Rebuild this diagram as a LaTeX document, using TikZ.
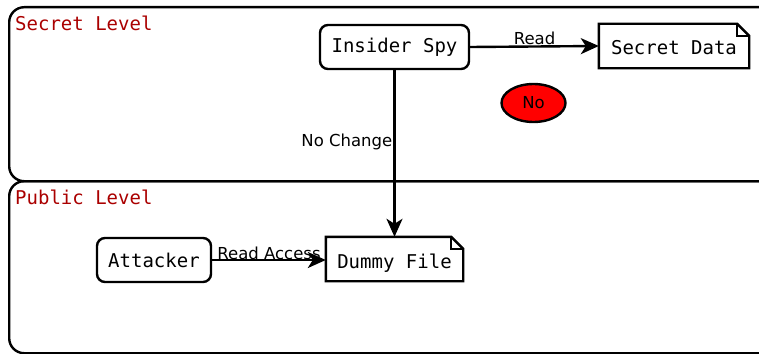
\documentclass[tikz,border=0pt]{standalone}
\usepackage{fontspec}
\setmainfont{DejaVu Sans}
\newfontfamily\monof{DejaVu Sans Mono}
\usetikzlibrary{arrows.meta,shapes.geometric}
\definecolor{lvlred}{HTML}{AA0000}
\tikzset{
  every picture/.style={line width=2.4pt},
  container/.style={draw, rounded corners=15pt},
  lvltitle/.style={anchor=west, text=lvlred, font=\monof\fontsize{19}{22}\selectfont, inner sep=0pt},
  actor/.style={draw, rounded corners=8pt, font=\monof\fontsize{19}{22}\selectfont, minimum height=44pt, inner xsep=8pt},
  docnode/.style={font=\monof\fontsize{19}{22}\selectfont, minimum height=42pt, inner xsep=6pt, inner ysep=0pt, text height=18pt, text depth=0pt},
  lbl/.style={font=\fontsize{16.5}{19}\selectfont, inner sep=1pt},
  conn/.style={-{Stealth[length=18pt,width=16pt,inset=5pt]}, line width=2.4pt},
}
\newcommand{\docoutline}[1]{%
  \draw (#1.south west) -- (#1.north west) -- ([xshift=-12pt]#1.north east) -- ([yshift=-12pt]#1.north east) -- (#1.south east) -- cycle;
  \draw ([xshift=-12pt]#1.north east) -- ([xshift=-12pt,yshift=-12pt]#1.north east) -- ([yshift=-12pt]#1.north east);}
\begin{document}
\begin{tikzpicture}[x=1pt,y=-1pt]
\useasboundingbox (0,0) rectangle (759,353);
\clip (0,0) rectangle (759,353);
\node[container, minimum width=770pt, minimum height=174pt, anchor=north west] (secret) at (8,6) {};
\node[container, minimum width=770pt, minimum height=172pt, anchor=north west] (public) at (8,180) {};
\node[lvltitle] (stitle) at (14,23) {Secret Level};
\node[lvltitle] (ptitle) at (14,197) {Public Level};

\node[actor, minimum width=149pt] (spy) at (394.5,47) {Insider Spy};
\node[docnode, minimum width=148pt] (sdata) at (674,46) {Secret Data};
\docoutline{sdata}
\node[ellipse, draw, fill=red, minimum width=64pt, minimum height=38pt, inner sep=0pt, font=\fontsize{16.5}{19}\selectfont] (no) at (533.5,103) {No};

\node[actor, minimum width=114pt] (att) at (154,260) {Attacker};
\node[docnode, minimum width=135pt] (dummy) at (394.5,259) {Dummy File};
\docoutline{dummy}

\draw[conn] (spy.east) -- (sdata.west) node[lbl, midway, above=0pt] (lread) {Read};
\draw[conn] (spy.south) -- (dummy.north) node[lbl, pos=0.43, left=0pt] (lnochg) {No Change};
\draw[conn] (att.east) -- (att.east -| dummy.west) node[lbl, midway, above=-2pt] (lra) {Read Access};
\end{tikzpicture}
\end{document}
